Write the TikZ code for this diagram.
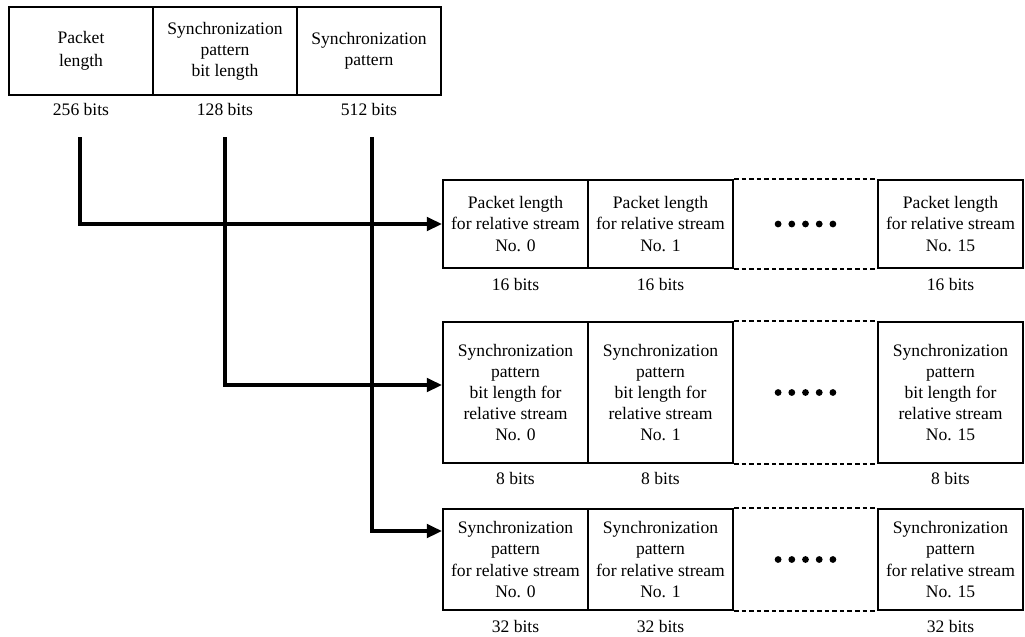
\documentclass[tikz,border=0pt]{standalone}
\usepackage{fontspec}
\setmainfont{Liberation Serif}
\usetikzlibrary{arrows.meta,calc}

\tikzset{
  cell/.style={draw, line width=1.3pt, inner sep=0pt, align=center, minimum width=2.9cm},
  bits/.style={inner sep=0pt},
  conn/.style={line width=1.9pt, -{Triangle[length=3mm,width=2.7mm]}},
  gap/.style={line width=1.2pt, dash pattern=on 2.6pt off 1.7pt}
}

\begin{document}
\begin{tikzpicture}[x=0.02cm, y=-0.02cm]

\useasboundingbox (0,0) rectangle (1025,636);

% header of the frame
\node[cell, minimum width=2.88cm, minimum height=1.76cm] (len) at (81,51) {Packet\\[1pt]length};
\node[cell, minimum width=2.88cm, minimum height=1.76cm] (sbl) at (225,51) {Synchronization\\pattern\\bit length};
\node[cell, minimum width=2.88cm, minimum height=1.76cm] (sp) at (369,51) {Synchronization\\pattern};
\node[bits] (lenbits) at (81,109) {256 bits};
\node[bits] (sblbits) at (225,109) {128 bits};
\node[bits] (spbits) at (369,109) {512 bits};

% packet lengths per stream
\node[cell, minimum height=1.76cm] (pl0) at (515.5,224) {Packet length\\for relative stream\\No. 0};
\node[cell, minimum height=1.76cm] (pl1) at (660.5,224) {Packet length\\for relative stream\\No. 1};
\node[cell, minimum height=1.76cm] (pl15) at (950.5,224) {Packet length\\for relative stream\\No. 15};
\node[bits] (plb0) at (515.5,284) {16 bits};
\node[bits] (plb1) at (660.5,284) {16 bits};
\node[bits] (plb15) at (950.5,284) {16 bits};

% sync pattern bit lengths per stream
\node[cell, minimum height=2.82cm] (sbl0) at (515.5,392.5) {Synchronization\\pattern\\bit length for\\relative stream\\No. 0};
\node[cell, minimum height=2.82cm] (sbl1) at (660.5,392.5) {Synchronization\\pattern\\bit length for\\relative stream\\No. 1};
\node[cell, minimum height=2.82cm] (sbl15) at (950.5,392.5) {Synchronization\\pattern\\bit length for\\relative stream\\No. 15};
\node[bits] (sblb0) at (515.5,478) {8 bits};
\node[bits] (sblb1) at (660.5,478) {8 bits};
\node[bits] (sblb15) at (950.5,478) {8 bits};

% sync patterns per stream
\node[cell, minimum height=2.02cm] (sp0) at (515.5,559.5) {Synchronization\\pattern\\for relative stream\\No. 0};
\node[cell, minimum height=2.02cm] (sp1) at (660.5,559.5) {Synchronization\\pattern\\for relative stream\\No. 1};
\node[cell, minimum height=2.02cm] (sp15) at (950.5,559.5) {Synchronization\\pattern\\for relative stream\\No. 15};
\node[bits] (spb0) at (515.5,626) {32 bits};
\node[bits] (spb1) at (660.5,626) {32 bits};
\node[bits] (spb15) at (950.5,626) {32 bits};

% omitted streams
\foreach \a/\b in {pl1/pl15, sbl1/sbl15, sp1/sp15} {
  \draw[gap] (\a.north east) -- (\b.north west);
  \draw[gap] (\a.south east) -- (\b.south west);
  \foreach \i in {-2,...,2}
    \fill ($(\a.east)!0.5!(\b.west)$) ++(\i*13.7,0) circle [radius=0.068cm];
}

\coordinate (s1) at (80,137);
\coordinate (s2) at (225,137);
\coordinate (s3) at (372,137);

\draw[conn] (s1) |- (pl0.west);
\draw[conn] (s2) |- ([yshift=1.5mm]sbl0.west);
\draw[conn] (s3) |- ([yshift=5.7mm]sp0.west);

\end{tikzpicture}
\end{document}
